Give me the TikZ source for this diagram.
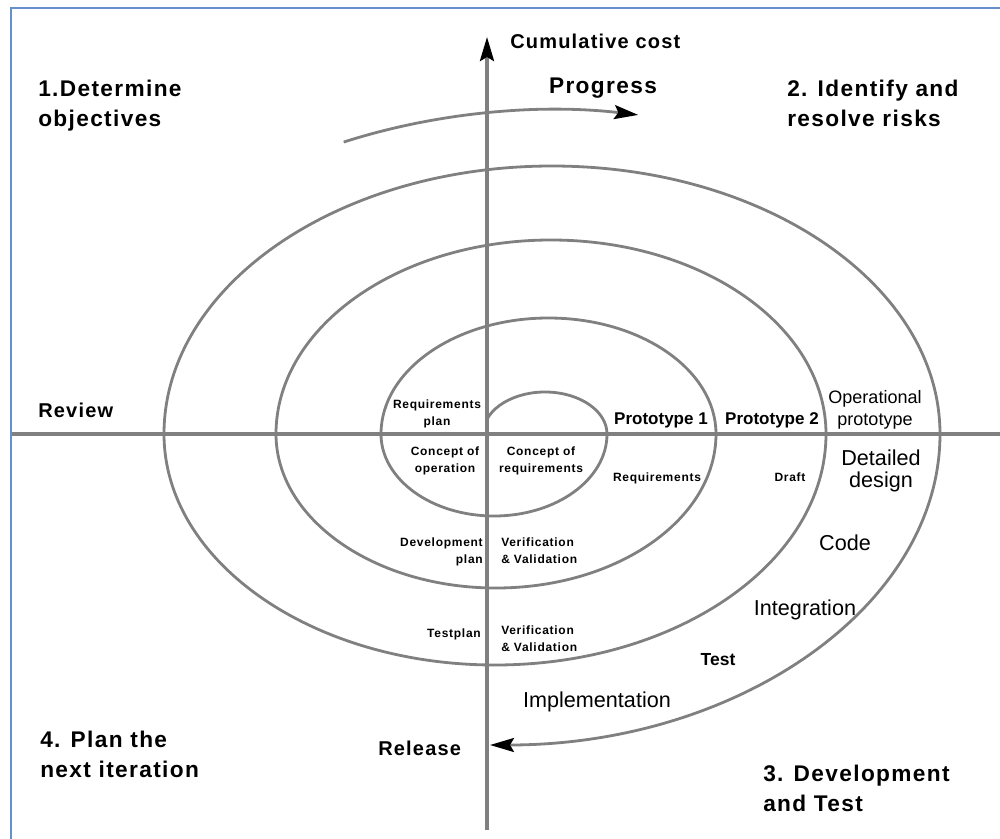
\documentclass[tikz,border=0pt]{standalone}
\usepackage{fontspec}
\setmainfont{Liberation Sans}
\newfontfamily\trackedfont[LetterSpace=6]{Liberation Sans}
\newfontfamily\tightfont[LetterSpace=6]{Liberation Sans}
\usetikzlibrary{arrows.meta}
\definecolor{linegray}{RGB}{128,128,128}
\definecolor{frameblue}{RGB}{100,145,205}

\begin{document}
\begin{tikzpicture}[x=0.75pt,y=-0.75pt,
  frameline/.style={draw=frameblue,line width=1.5pt},
  axisline/.style={draw=linegray,line width=2.6pt},
  spiralline/.style={draw=linegray,line width=2.1pt},
  blacktip/.style={-{Stealth[black,length=18pt,width=10.5pt,inset=3pt]}},
  biglabel/.style={inner sep=0pt,align=left,font=\trackedfont\bfseries\fontsize{17pt}{22.5pt}\selectfont},
  midlabel/.style={inner sep=0pt,font=\trackedfont\bfseries\fontsize{15pt}{17pt}\selectfont},
  smalllabel/.style={inner sep=0pt,align=center,font=\tightfont\bfseries\fontsize{9pt}{12.75pt}\selectfont},
  protolabel/.style={inner sep=0pt,font=\bfseries\fontsize{12.75pt}{15pt}\selectfont},
  oplabel/.style={inner sep=0pt,align=center,font=\fontsize{13.5pt}{16.5pt}\selectfont},
  planlabel/.style={inner sep=0pt,align=center,font=\fontsize{16.2pt}{16.5pt}\selectfont},
  testlabel/.style={inner sep=0pt,font=\bfseries\fontsize{13.1pt}{15pt}\selectfont}
]
\useasboundingbox (0,0) rectangle (1000,839);

% frame along the top and left edges
\coordinate (frameTR) at (1000,8);
\coordinate (frameTL) at (11,8);
\coordinate (frameBL) at (11,839);
\draw[frameline] (frameTR) -- (frameTL) -- (frameBL);

% axes
\coordinate (vbot) at (487,830);
\coordinate (vtop) at (487,37);
\coordinate (hleft) at (12,434);
\coordinate (hright) at (1000,434);
\draw[axisline] (hleft) -- (hright);
\draw[axisline,blacktip] (vbot) -- (vtop);

% the spiral: alternating upper and lower half ellipses, ending at Release
\coordinate (spiralstart) at ({545+62*cos(200)},{434+42*sin(200)});
\draw[spiralline,blacktip] (spiralstart)
  arc[start angle=200,end angle=360,x radius=62,y radius=42]
  arc[start angle=0,end angle=180,x radius=113,y radius=82]
  arc[start angle=180,end angle=360,x radius=167.5,y radius=116]
  arc[start angle=0,end angle=180,x radius=220,y radius=154]
  arc[start angle=180,end angle=360,x radius=275,y radius=194]
  arc[start angle=0,end angle=180,x radius=331,y radius=231]
  arc[start angle=180,end angle=360,x radius=388,y radius=268]
  arc[start angle=0,end angle=90,x radius=450,y radius=311];

% progress arrow above the spiral
\coordinate (progstart) at ({554+485*cos(244.3)},{434+324*sin(244.3)});
\draw[spiralline,blacktip] (progstart)
  arc[start angle=244.3,end angle=280,x radius=485,y radius=324];

% quadrant titles and axis labels
\node[midlabel,anchor=base west] (cost) at (510,48) {Cumulative cost};
\node[biglabel,anchor=north west] (q1) at (38,80) {1.Determine\\objectives};
\node[biglabel,anchor=base] (progress) at (603,93) {Progress};
\node[biglabel,anchor=north west] (q2) at (787,80) {2. Identify and\\resolve risks};
\node[biglabel,anchor=north west] (q4) at (40,731) {4. Plan the\\next iteration};
\node[biglabel,anchor=north west] (q3) at (763,765) {3. Development\\and Test};
\node[midlabel,anchor=base west] (review) at (38,417) {Review};
\node[midlabel,anchor=base west] (release) at (378,755) {Release};

% inner labels
\node[smalllabel] (reqplan) at (437,414) {Requirements\\plan};
\node[smalllabel] (conops) at (445,461) {Concept of\\operation};
\node[smalllabel] (conreq) at (541,461) {Concept of\\requirements};
\node[smalllabel] (req) at (657,478) {Requirements};
\node[smalllabel] (draft) at (790,477) {Draft};
\node[smalllabel,align=right,anchor=north east] (devplan) at (483,538) {Development\\plan};
\node[smalllabel,align=left,anchor=north west] (vv1) at (501,538) {Verification\\\& Validation};
\node[smalllabel,anchor=base east] (testplan) at (481,637) {Testplan};
\node[smalllabel,align=left,anchor=north west] (vv2) at (501,626) {Verification\\\& Validation};

% prototypes and development stages
\node[protolabel,anchor=base] (proto1) at (661,424) {Prototype 1};
\node[protolabel,anchor=base] (proto2) at (772,424) {Prototype 2};
\node[oplabel,anchor=north] (opproto) at (875,390) {Operational\\prototype};
\node[planlabel,anchor=north] (design) at (881,450) {Detailed\\design};
\node[planlabel,anchor=base] (code) at (845,550) {Code};
\node[planlabel,anchor=base] (integ) at (805,615) {Integration};
\node[testlabel,anchor=base] (test) at (718,665) {Test};
\node[planlabel,anchor=base] (impl) at (597,707) {Implementation};
\end{tikzpicture}
\end{document}
